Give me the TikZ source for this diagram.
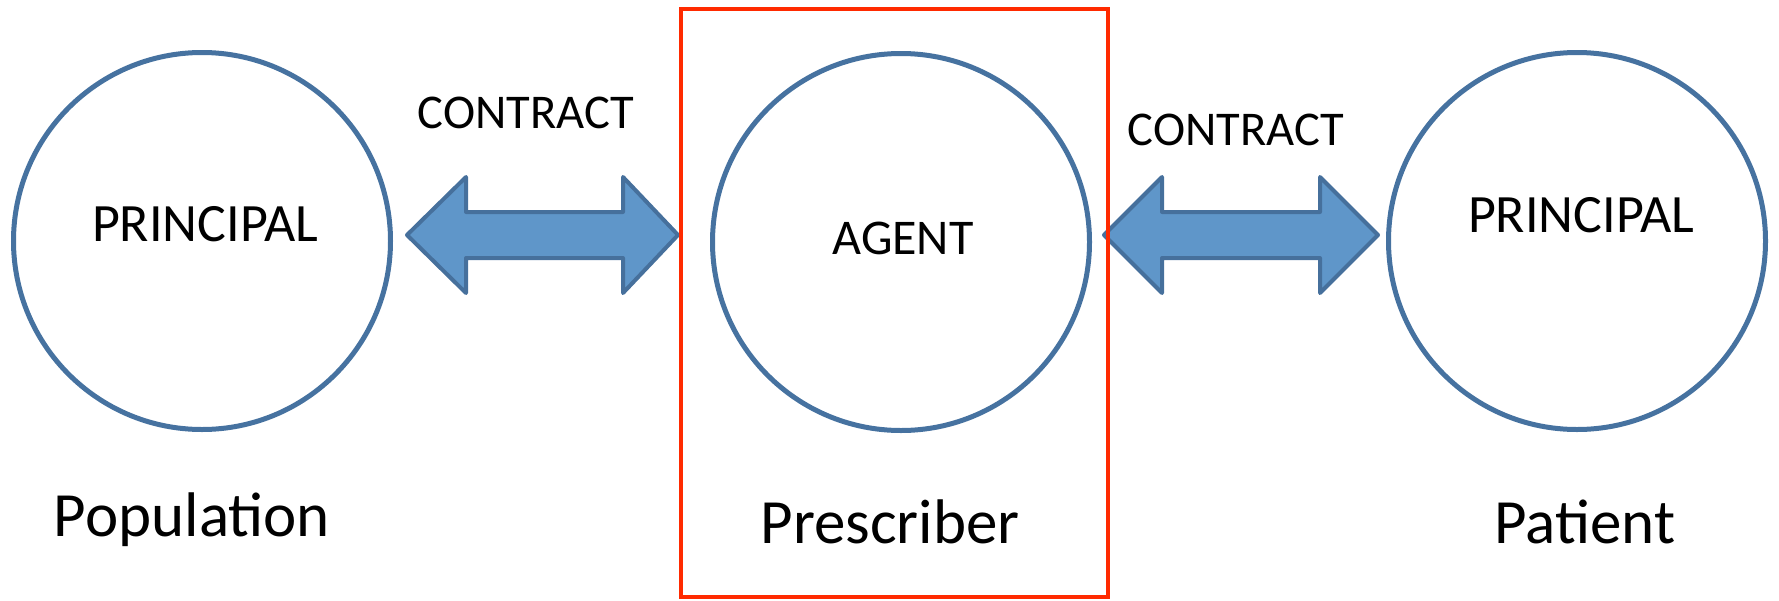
\documentclass[tikz,border=0pt]{standalone}
\usepackage{fontspec}
\setmainfont{Carlito}
\definecolor{circline}{HTML}{4672A0}
\definecolor{arrfill}{HTML}{5F96C9}
\definecolor{arrline}{HTML}{46709C}
\definecolor{redbox}{HTML}{FF2A00}
\begin{document}
\begin{tikzpicture}[x=1pt,y=-1pt,
  role/.style={circle,draw=circline,line width=5pt,minimum size=377pt,inner sep=0pt},
  dblarrow/.style={fill=arrfill,draw=arrline,line width=4pt,line join=round},
  intext/.style={anchor=base,inner sep=0pt,font=\fontsize{54}{62}\selectfont},
  ctext/.style={anchor=base,inner sep=0pt,font=\fontsize{48.5}{58}\selectfont},
  btext/.style={anchor=base,inner sep=0pt,font=\fontsize{63}{75}\selectfont}]
\useasboundingbox (0,0) rectangle (1779,600);
% circles
\node[role] (popc) at (202,241) {};
\node[role] (agc) at (901,242) {};
\node[role] (patc) at (1577,241) {};
% circle texts
\node[intext] (p1) at (205,241) {PRINCIPAL};
\node[intext,font=\fontsize{50}{58}\selectfont] (ag) at (903,254) {AGENT};
\node[intext] (p2) at (1581,232) {PRINCIPAL};
% double arrows
\draw[dblarrow] (407,235) -- (466,177) -- (466,212) -- (623,212) -- (623,177) -- (678,235)
  -- (623,293) -- (623,258) -- (466,258) -- (466,293) -- cycle;
\draw[dblarrow] (1104,235) -- (1162,177) -- (1162,212) -- (1320,212) -- (1320,177) -- (1378,235)
  -- (1320,293) -- (1320,258) -- (1162,258) -- (1162,293) -- cycle;
% contract labels
\node[ctext] (c1) at (526,128) {CONTRACT};
\node[ctext] (c2) at (1236,145) {CONTRACT};
% red box
\draw[redbox,line width=4pt] (681,9) rectangle (1108,597);
% bottom labels
\node[btext] (pop) at (192,536) {Population};
\node[btext] (pre) at (890,543) {Prescriber};
\node[btext] (pat) at (1585,543) {Patient};
\end{tikzpicture}
\end{document}
